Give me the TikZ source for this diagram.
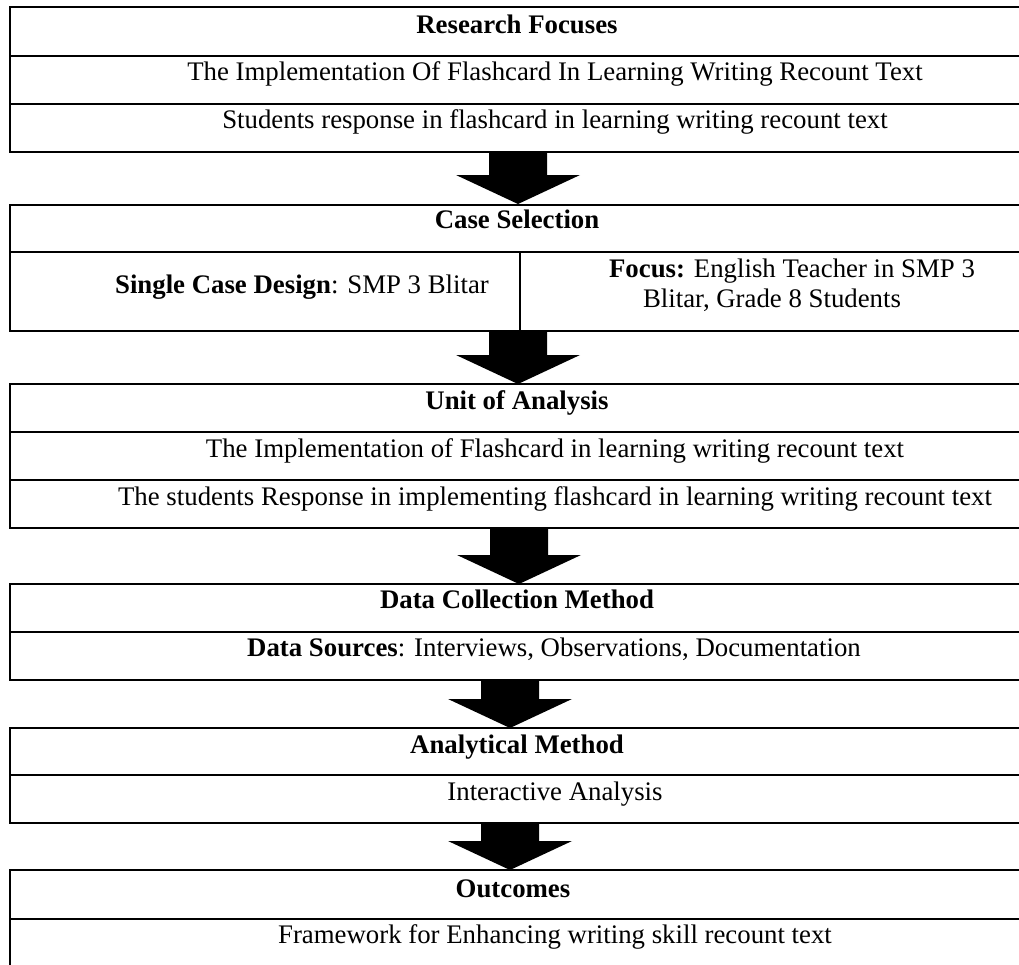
\documentclass[tikz,border=0pt]{standalone}
\usepackage{fontspec}
\setmainfont{Liberation Serif}
\usetikzlibrary{calc}
\newcommand\fatarrow[2]{\fill ($(#1)+(-29,0)$) -- ($(#1)+(29,0)$) -- ($(#2)+(29,-29)$) -- ($(#2)+(62,-29)$) -- (#2) -- ($(#2)+(-62,-29)$) -- ($(#2)+(-29,-29)$) -- cycle;}
\begin{document}
\begin{tikzpicture}[x=0.5pt,y=-0.5pt, line width=1pt,
 txt/.style={anchor=base, inner sep=0pt, font=\fontsize{13.4}{15}\selectfont},
 ttl/.style={txt, font=\fontsize{13.4}{15}\selectfont\bfseries}]
\useasboundingbox (0,0) rectangle (1019,965);
\clip (0,0) rectangle (1019,965);
% Box 1
\draw (10,7) rectangle (1040,152);
\draw (10,56) -- (1040,56);
\draw (10,104) -- (1040,104);
\node[ttl] (t1) at (517,33) {Research Focuses};
\node[txt] (t1a) at (555,80) {The Implementation Of Flashcard In Learning Writing Recount Text};
\node[txt] (t1b) at (555,128) {Students response in flashcard in learning writing recount text};
% Box 2
\draw (10,205) rectangle (1040,331);
\draw (10,252) -- (1040,252);
\draw (520,252) -- (520,331);
\node[ttl] (t2) at (517,228) {Case Selection};
\node[txt] (t2a) at (302,293) {\textbf{Single Case Design}: SMP 3 Blitar};
\node[txt] (t2b) at (792,277) {\textbf{Focus:} English Teacher in SMP 3};
\node[txt] (t2c) at (772,307) {Blitar, Grade 8 Students};
% Box 3
\draw (10,384) rectangle (1040,528);
\draw (10,432) -- (1040,432);
\draw (10,480) -- (1040,480);
\node[ttl] (t3) at (517,409) {Unit of Analysis};
\node[txt] (t3a) at (555,457) {The Implementation of Flashcard in learning writing recount text};
\node[txt] (t3b) at (555,505) {The students Response in implementing flashcard in learning writing recount text};
% Box 4
\draw (10,584) rectangle (1040,680);
\draw (10,632) -- (1040,632);
\node[ttl] (t4) at (517,608) {Data Collection Method};
\node[txt] (t4a) at (554,656) {\textbf{Data Sources}: Interviews, Observations, Documentation};
% Box 5
\draw (10,728) rectangle (1040,823);
\draw (10,775) -- (1040,775);
\node[ttl] (t5) at (517,753) {Analytical Method};
\node[txt] (t5a) at (555,800) {Interactive Analysis};
% Box 6
\draw (10,1000) -- (10,870) -- (1040,870);
\draw (10,919) -- (1040,919);
\node[ttl] (t6) at (513,897) {Outcomes};
\node[txt] (t6a) at (555,943) {Framework for Enhancing writing skill recount text};
% arrow anchors
\coordinate (s1) at (518,152); \coordinate (e1) at (518,204);
\coordinate (s2) at (518,331); \coordinate (e2) at (518,384);
\coordinate (s3) at (519,528); \coordinate (e3) at (519,584);
\coordinate (s4) at (510,680); \coordinate (e4) at (510,728);
\coordinate (s5) at (510,823); \coordinate (e5) at (510,870);
\fatarrow{s1}{e1}
\fatarrow{s2}{e2}
\fatarrow{s3}{e3}
\fatarrow{s4}{e4}
\fatarrow{s5}{e5}
\end{tikzpicture}
\end{document}
